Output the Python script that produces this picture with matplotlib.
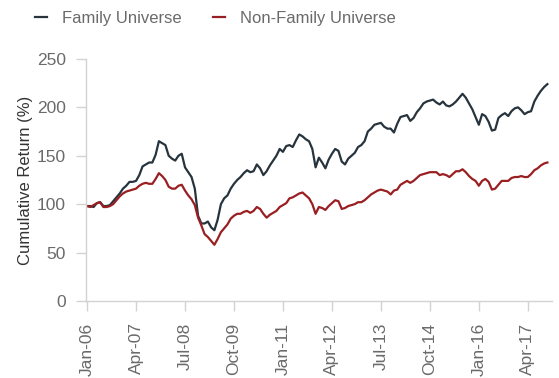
import numpy as np
import matplotlib
matplotlib.use("Agg")
import matplotlib.pyplot as plt

plt.rcParams["font.family"] = ["Liberation Sans", "DejaVu Sans"]

# monthly cumulative returns (%), Jan-06 .. Oct-17
family = [
    98, 98, 97, 101, 102, 98, 98, 99, 103, 107, 111, 116,
    119, 123, 123, 124, 130, 139, 141, 143, 143, 151, 165, 163,
    161, 150, 147, 145, 150, 152, 138, 133, 128, 116, 88, 80,
    80, 82, 76, 73, 84, 100, 106, 109, 116, 121, 125, 128,
    132, 135, 133, 134, 141, 137, 130, 134, 140, 145, 150, 157,
    154, 160, 161, 159, 166, 172, 170, 167, 165, 157, 138, 148,
    143, 137, 146, 152, 157, 155, 144, 141, 147, 150, 153, 159,
    161, 165, 175, 178, 182, 183, 184, 180, 178, 178, 174, 183,
    190, 191, 192, 186, 189, 195, 199, 204, 206, 207, 208, 205,
    203, 206, 202, 201, 203, 206, 210, 214, 210, 204, 198, 190,
    182, 193, 191, 185, 176, 177, 189, 192, 194, 191, 196, 199,
    200, 197, 193, 195, 196, 206, 212, 217, 221, 224,
]
non_family = [
    98, 97, 99, 101, 102, 97, 97, 98, 100, 104, 108, 111,
    113, 114, 115, 116, 119, 121, 122, 121, 121, 126, 132, 129,
    125, 118, 116, 116, 119, 120, 114, 109, 105, 99, 86, 78,
    69, 66, 62, 58, 64, 71, 75, 79, 85, 88, 90, 90,
    92, 93, 91, 93, 97, 95, 90, 86, 89, 91, 93, 97,
    99, 101, 106, 107, 109, 111, 112, 109, 106, 100, 90, 97,
    96, 94, 98, 101, 104, 103, 95, 96, 98, 99, 100, 102,
    102, 104, 107, 110, 112, 114, 115, 114, 113, 110, 114, 115,
    120, 122, 124, 122, 124, 127, 130, 131, 132, 133, 133, 133,
    130, 131, 130, 128, 131, 134, 134, 136, 133, 129, 126, 124,
    119, 124, 126, 123, 115, 116, 120, 124, 124, 124, 127, 128,
    128, 129, 128, 128, 131, 135, 137, 140, 142, 143,
]
tick_labels = ["Jan-06", "Apr-07", "Jul-08", "Oct-09", "Jan-11",
               "Apr-12", "Jul-13", "Oct-14", "Jan-16", "Apr-17"]
tick_months = [0, 15, 30, 45, 60, 75, 90, 105, 120, 135]

DARK = "#27343d"
RED = "#9a1f22"
GRID = "#d2d2d2"
TXT = "#6a6a6a"

fig = plt.figure(figsize=(5.59, 3.78), dpi=100)
ax = fig.add_axes([0.154, 0.204, 0.834, 0.640])

months = np.arange(len(family))
l1, = ax.plot(months, family, color=DARK, lw=1.6, label="Family Universe")
l2, = ax.plot(months, non_family, color=RED, lw=1.6, label="Non-Family Universe")

ax.set_xlim(-0.3, 142.5)
ax.set_ylim(0, 250)
ax.set_yticks([0, 50, 100, 150, 200, 250])
ax.set_xticks(tick_months)
ax.set_xticklabels(tick_labels, rotation=90)

for s in ["top", "right"]:
    ax.spines[s].set_visible(False)
for s in ["left", "bottom"]:
    ax.spines[s].set_color(GRID)
    ax.spines[s].set_linewidth(1.0)
ax.tick_params(axis="both", colors=GRID, labelcolor=TXT, labelsize=12.5,
               length=7.5, width=1.0)
ax.tick_params(axis="y", pad=7)
ax.tick_params(axis="x", pad=8)

ax.set_ylabel("Cumulative Return (%)", fontsize=12, color="#333333",
              labelpad=3)

fig.legend(handles=[l1, l2], loc="upper left", bbox_to_anchor=(0.036, 1.01),
           ncol=2, frameon=False, fontsize=12, handlelength=0.7,
           handletextpad=0.9, columnspacing=1.9, labelcolor=TXT)

fig.savefig("out.png", dpi=100, facecolor="white")
